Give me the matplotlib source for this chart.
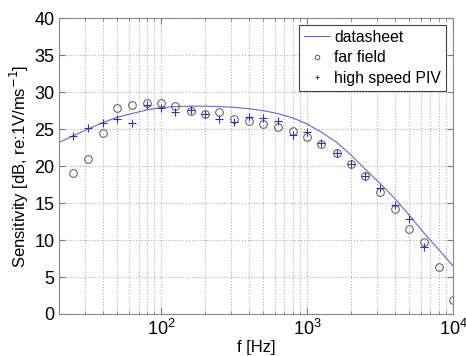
import matplotlib
matplotlib.use("Agg")
import matplotlib.pyplot as plt
from matplotlib.ticker import LogLocator, NullFormatter

plt.rcParams['font.family'] = ['Liberation Sans', 'DejaVu Sans']

# datasheet curve (1/3 octave points)
ds_freq = [20, 25, 31.5, 40, 50, 63, 80, 100, 125, 160, 200, 250, 315, 400,
           500, 630, 800, 1000, 1250, 1600, 2000, 2500, 3150, 4000, 5000,
           6300, 8000, 10000]
ds_sens = [23.2, 24.1, 25.0, 25.9, 26.6, 27.1, 27.6, 27.9, 28.05, 28.1, 28.1,
           28.05, 27.95, 27.75, 27.5, 27.1, 26.5, 25.7, 24.6, 23.2, 21.5, 19.6,
           17.7, 15.6, 13.4, 11.0, 8.7, 6.5]

# far field measurement
ff_freq = [25, 31.5, 40, 50, 63, 80, 100, 125, 160, 200, 250, 315, 400, 500,
           630, 800, 1000, 1250, 1600, 2000, 2500, 3150, 4000, 5000, 6300,
           8000, 10000]
ff_sens = [19.1, 20.9, 24.5, 27.8, 28.2, 28.5, 28.5, 28.1, 27.5, 27.1, 27.25,
           26.3, 26.1, 25.7, 25.3, 24.7, 23.9, 23.0, 21.8, 20.3, 18.7, 16.5,
           14.2, 11.5, 9.7, 6.3, 1.9]

# high speed PIV
piv_freq = [25, 31.5, 40, 50, 63, 80, 100, 125, 160, 200, 250, 315, 400, 500,
            630, 800, 1000, 1250, 1600, 2000, 2500, 3150, 4000, 5000, 6300]
piv_sens = [24.0, 25.1, 25.85, 26.35, 25.85, 28.2, 27.9, 27.25, 27.6, 27.0,
            26.35, 26.0, 26.6, 26.45, 26.1, 24.2, 24.6, 23.1, 21.8, 20.3, 18.7,
            17.1, 14.8, 12.9, 9.0]

fig = plt.figure(figsize=(4.66, 3.56), dpi=100)
ax = fig.add_axes([0.127, 0.118, 0.845, 0.831])

ax.semilogx(ds_freq, ds_sens, '-', color='#6464d2', lw=0.8, label='datasheet')
ax.semilogx(ff_freq, ff_sens, 'o', mfc='none', mec='#555555', ms=5.5, mew=0.7,
            label='far field')
ax.semilogx(piv_freq, piv_sens, '+', color='#3030b0', ms=6, mew=0.8,
            label='high speed PIV')

ax.set_xlim(20, 10000)
ax.set_ylim(0, 40)
ax.set_yticks(range(0, 41, 5))
ax.xaxis.set_major_locator(LogLocator(base=10))
ax.xaxis.set_minor_locator(LogLocator(base=10, subs=range(2, 10)))
ax.xaxis.set_minor_formatter(NullFormatter())

ax.grid(True, which='major', ls=':', color='#b0b0b0', lw=0.8)
ax.grid(True, which='minor', axis='x', ls=':', color='#b0b0b0', lw=0.8)
ax.tick_params(which='both', direction='in', top=True, right=True,
               labelsize=13, color='#777777')
ax.tick_params(which='major', length=4)
ax.tick_params(which='minor', length=2)
for s in ax.spines.values():
    s.set_color('#888888')

ax.set_xlabel('f [Hz]', fontsize=12, labelpad=1)
ax.set_ylabel('Sensitivity [dB, re:1V/ms$^{-1}$]', fontsize=12, labelpad=2)

leg = ax.legend(loc='upper right', fontsize=11.3, fancybox=False,
                edgecolor='#444444', framealpha=1, borderaxespad=0.45,
                handlelength=1.65, handletextpad=0.3, labelspacing=0.35,
                borderpad=0.3, markerscale=0.6)
leg.get_frame().set_linewidth(0.8)

fig.savefig('out.png', dpi=100)
